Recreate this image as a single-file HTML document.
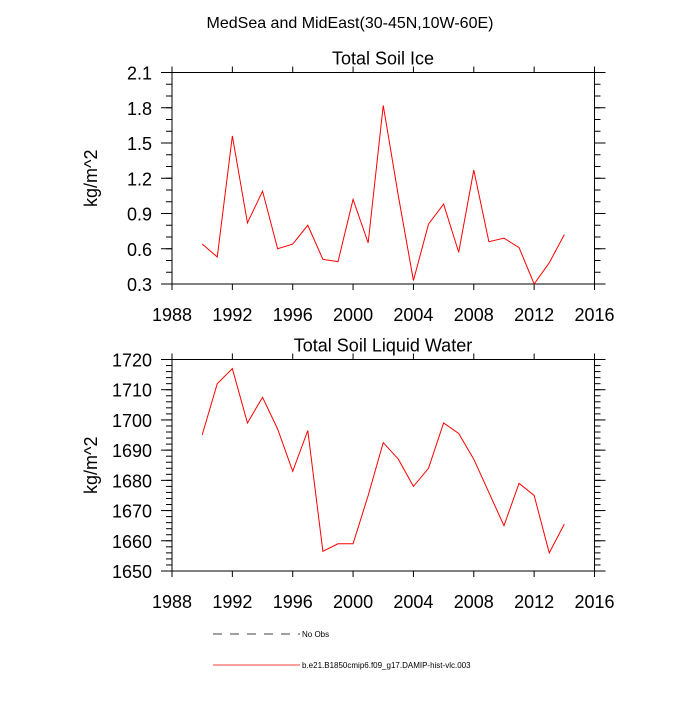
<!DOCTYPE html>
<html><head><meta charset="utf-8"><style>
body{margin:0;background:#fff}
svg text{font-family:"Liberation Sans",sans-serif;fill:#000}
</style></head><body>
<svg id="c" width="700" height="700" xmlns="http://www.w3.org/2000/svg">
<text x="350" y="28" font-size="16" text-anchor="middle">MedSea and MidEast(30-45N,10W-60E)</text>
<g id="g"></g>
<line x1="213" y1="634" x2="300" y2="634" stroke="#000" stroke-width="0.8" stroke-dasharray="9,8"/>
<text x="302" y="637" font-size="8">No Obs</text>
<line x1="213" y1="665" x2="300" y2="665" stroke="red" stroke-width="0.8"/>
<text x="302" y="668" font-size="8">b.e21.B1850cmip6.f09_g17.DAMIP-hist-vlc.003</text>
</svg>
<script>
const years=[1990,1991,1992,1993,1994,1995,1996,1997,1998,1999,2000,2001,2002,2003,2004,2005,2006,2007,2008,2009,2010,2011,2012,2013,2014];
const iceValues=[0.64,0.53,1.56,0.82,1.09,0.60,0.64,0.80,0.51,0.49,1.02,0.65,1.82,1.05,0.33,0.81,0.98,0.57,1.27,0.66,0.69,0.61,0.30,0.48,0.72];
const liqValues=[1695,1712,1717,1699,1707.5,1697,1683,1696.5,1656.5,1659,1659,1675,1692.5,1687,1678,1684,1699,1695.5,1687,1676,1665,1679,1675,1656,1665.5];
const xTicks=[1988,1992,1996,2000,2004,2008,2012,2016];
const iceTicks=[0.3,0.6,0.9,1.2,1.5,1.8,2.1];
const liqTicks=[1650,1660,1670,1680,1690,1700,1710,1720];
const NS="http://www.w3.org/2000/svg";
const g=document.getElementById('g');
function mk(t,a,txt){const e=document.createElementNS(NS,t);for(const k in a)e.setAttribute(k,a[k]);if(txt!==undefined)e.textContent=txt;g.appendChild(e);return e;}
const L=172,R=594.5;
function xs(v){return L+(v-1988)/(2016-1988)*(R-L);}
function panel(top,bot,ymin,ymax,yt,minorStep,vals,title,key,fmt){
  const ys=v=>bot-(v-ymin)/(ymax-ymin)*(bot-top);
  let t=mk('text',{x:383,y:top-8,'font-size':18,'text-anchor':'middle'},title);
  
  
  let r=mk('rect',{x:L,y:top,width:R-L,height:bot-top,fill:'none',stroke:'#000','stroke-width':1});
  
  
  xTicks.forEach(v=>{const x=xs(v);
    mk('line',{x1:x,y1:bot,x2:x,y2:bot+6,stroke:'#000'});
    mk('line',{x1:x,y1:top,x2:x,y2:top-6,stroke:'#000'});
    let l=mk('text',{x:x,y:bot+37,'font-size':18,'text-anchor':'middle'},String(v));
    
    
  });
  for(let v=ymin;v<=ymax+1e-9;v+=minorStep){const y=ys(v);
    mk('line',{x1:L,y1:y,x2:L-6,y2:y,stroke:'#000'});mk('line',{x1:R,y1:y,x2:R+6,y2:y,stroke:'#000'});}
  yt.forEach(v=>{const y=ys(v);
    mk('line',{x1:L,y1:y,x2:L-11,y2:y,stroke:'#000'});mk('line',{x1:R,y1:y,x2:R+11,y2:y,stroke:'#000'});
    let l=mk('text',{x:L-20,y:y+7,'font-size':18,'text-anchor':'end'},fmt(v));
    
    
  });
  let yl=mk('text',{x:0,y:0,'font-size':18,'text-anchor':'middle',transform:`translate(97,${(top+bot)/2}) rotate(-90)`},'kg/m^2');
  
  
  let p=mk('polyline',{points:vals.map((v,i)=>xs(years[i])+','+ys(v)).join(' '),fill:'none',stroke:'red','stroke-width':1});
  
  
}
panel(72.5,284,0.3,2.1,iceTicks,0.1,iceValues,'Total Soil Ice','ice',v=>v.toFixed(1));
panel(359.5,571,1650,1720,liqTicks,2,liqValues,'Total Soil Liquid Water','liquid',v=>String(v));
</script>
</body></html>
